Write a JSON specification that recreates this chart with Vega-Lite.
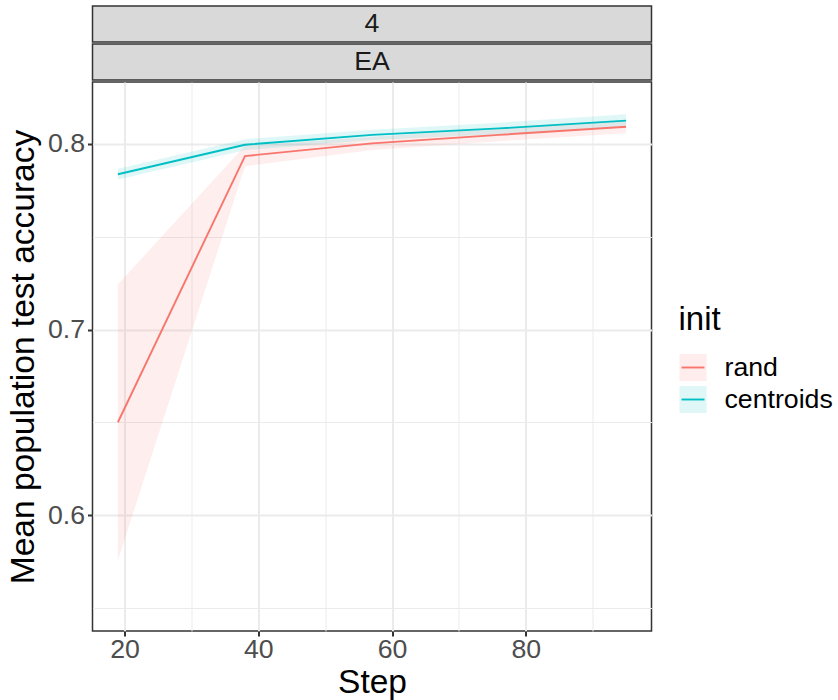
{
  "$schema": "https://vega.github.io/schema/vega-lite/v6.json",
  "background": "white",
  "padding": {"left": 5.5, "top": 5, "right": 5, "bottom": 0},
  "spacing": 0,
  "config": {
    "font": "Liberation Sans",
    "concat": {"spacing": 0},
    "axis": {
      "labelFont": "Liberation Sans",
      "titleFont": "Liberation Sans",
      "labelFontSize": 26.7,
      "labelColor": "#4d4d4d",
      "titleFontSize": 33.5,
      "titleColor": "#000000",
      "titleFontWeight": "normal",
      "tickColor": "#333333",
      "tickWidth": 2,
      "tickSize": 5,
      "domain": false,
      "gridColor": "#ebebeb",
      "gridWidth": 2
    },
    "legend": {
      "labelFont": "Liberation Sans",
      "labelFontSize": 26.7,
      "labelColor": "#000000",
      "titleFont": "Liberation Sans",
      "titleFontSize": 33,
      "titleFontWeight": "normal",
      "titleColor": "#000000",
      "labelOffset": 17,
      "rowPadding": -8,
      "titlePadding": 16,
      "symbolSize": 729
    }
  },
  "datasets": {
    "acc": [
      {"step": 19, "init": "rand", "mean": 0.650, "lo": 0.5757, "hi": 0.7243},
      {"step": 38, "init": "rand", "mean": 0.7935, "lo": 0.788, "hi": 0.799},
      {"step": 57, "init": "rand", "mean": 0.8003, "lo": 0.7968, "hi": 0.8038},
      {"step": 76, "init": "rand", "mean": 0.8049, "lo": 0.8015, "hi": 0.8083},
      {"step": 95, "init": "rand", "mean": 0.8093, "lo": 0.8058, "hi": 0.8128},
      {"step": 19, "init": "centroids", "mean": 0.7837, "lo": 0.7808, "hi": 0.7866},
      {"step": 38, "init": "centroids", "mean": 0.7996, "lo": 0.7966, "hi": 0.8026},
      {"step": 57, "init": "centroids", "mean": 0.8049, "lo": 0.8022, "hi": 0.8076},
      {"step": 76, "init": "centroids", "mean": 0.8084, "lo": 0.8053, "hi": 0.8115},
      {"step": 95, "init": "centroids", "mean": 0.8126, "lo": 0.8092, "hi": 0.816}
    ]
  },
  "vconcat": [
    {
      "width": 559,
      "height": 36,
      "data": {"values": [{"label": "4"}]},
      "view": {"fill": "#d9d9d9", "stroke": "#333333", "strokeWidth": 1.5},
      "mark": {"type": "text", "fontSize": 26.7, "color": "#1a1a1a", "baseline": "middle", "align": "center"},
      "encoding": {"text": {"field": "label"}}
    },
    {
      "width": 559,
      "height": 36,
      "data": {"values": [{"label": "EA"}]},
      "view": {"fill": "#d9d9d9", "stroke": "#333333", "strokeWidth": 1.5},
      "mark": {"type": "text", "fontSize": 26.7, "color": "#1a1a1a", "baseline": "middle", "align": "center"},
      "encoding": {"text": {"field": "label"}}
    },
    {
      "width": 559,
      "height": 549,
      "data": {"name": "acc"},
      "view": {"fill": "white", "stroke": "#333333", "strokeWidth": 1.5},
      "layer": [
        {
          "mark": {"type": "area", "fillOpacity": 0.12},
          "encoding": {
            "x": {
              "field": "step", "type": "quantitative",
              "scale": {"domain": [15.2, 98.8], "nice": false, "zero": false},
              "axis": {"title": "Step", "orient": "bottom", "values": [20, 40, 60, 80], "labelPadding": 0, "titlePadding": 4, "labelFlush": false}
            },
            "y": {
              "field": "lo", "type": "quantitative", "stack": null,
              "scale": {"domain": [0.5375, 0.8334], "nice": false, "zero": false},
              "axis": {"title": "Mean population test accuracy", "orient": "left", "values": [0.6, 0.7, 0.8], "format": ".1f", "labelPadding": 3, "titlePadding": 7}
            },
            "y2": {"field": "hi"},
            "fill": {
              "field": "init", "type": "nominal",
              "scale": {"domain": ["rand", "centroids"], "range": ["#F8766D", "#00BFC4"]},
              "legend": {
                "orient": "none", "legendX": 586, "legendY": 298,
                "title": " ", "labelExpr": "' '",
                "symbolType": "square", "symbolOpacity": 0.12,
                "symbolStrokeWidth": 1.9, "symbolStrokeColor": "transparent"
              }
            }
          }
        },
        {
          "mark": {"type": "line", "strokeWidth": 1.9},
          "encoding": {
            "x": {
              "field": "step", "type": "quantitative",
              "axis": {"orient": "bottom", "values": [30, 50, 70, 90], "labels": false, "ticks": false, "domain": false, "title": null, "grid": true, "gridWidth": 1, "maxExtent": 0, "minExtent": 0}
            },
            "y": {
              "field": "mean", "type": "quantitative",
              "axis": {"orient": "left", "values": [0.55, 0.65, 0.75], "labels": false, "ticks": false, "domain": false, "title": null, "grid": true, "gridWidth": 1, "maxExtent": 0, "minExtent": 0}
            },
            "stroke": {
              "field": "init", "type": "nominal", "sort": null,
              "scale": {"range": ["#F8766D", "#00BFC4"]},
              "legend": {
                "orient": "none", "legendX": 586, "legendY": 298,
                "title": "init",
                "symbolType": "M-1,-1M-0.85,0H0.85M1,1", "symbolStrokeWidth": 1.9
              }
            }
          }
        }
      ],
      "resolve": {"axis": {"x": "independent", "y": "independent"}}
    }
  ]
}
